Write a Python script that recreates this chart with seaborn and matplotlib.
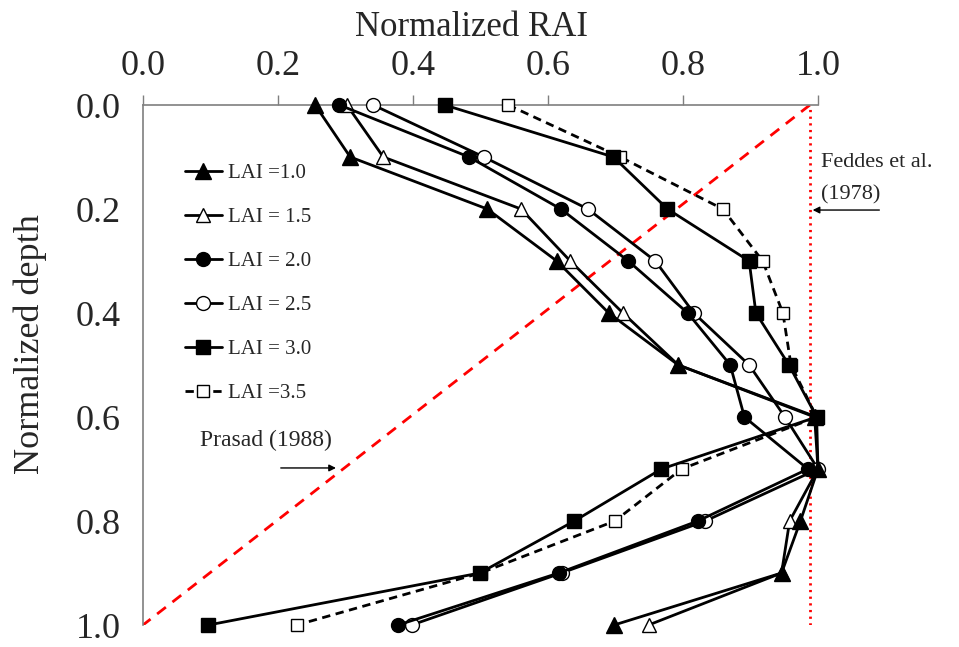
import numpy as np
import pandas as pd
import matplotlib
matplotlib.use("Agg")
import matplotlib.pyplot as plt
import seaborn as sns

# normalized depth levels (shared by all curves)
depth = [0.0, 0.1, 0.2, 0.3, 0.4, 0.5, 0.6, 0.7, 0.8, 0.9, 1.0]

# normalized RAI, one list per LAI
rai_lai_10 = [0.255, 0.307, 0.510, 0.613, 0.690, 0.793, 0.995, 1.000, 0.974, 0.946, 0.698]
rai_lai_15 = [0.302, 0.356, 0.560, 0.633, 0.711, 0.793, 0.998, 1.000, 0.958, 0.946, 0.749]
rai_lai_20 = [0.291, 0.483, 0.619, 0.719, 0.807, 0.870, 0.891, 0.985, 0.822, 0.616, 0.378]
rai_lai_25 = [0.341, 0.505, 0.659, 0.759, 0.816, 0.898, 0.951, 1.000, 0.833, 0.620, 0.398]
rai_lai_30 = [0.447, 0.697, 0.777, 0.898, 0.908, 0.957, 0.998, 0.768, 0.639, 0.499, 0.097]
rai_lai_35 = [0.541, 0.707, 0.859, 0.918, 0.948, 0.960, 0.998, 0.798, 0.699, 0.500, 0.228]

labels = ["LAI =1.0", "LAI = 1.5", "LAI = 2.0", "LAI = 2.5", "LAI = 3.0", "LAI =3.5"]

# reference lines
feddes_x = 0.988
prasad_x = [0.988, 0.0]
prasad_y = [0.0, 1.0]

sns.set_style("white")
plt.rcParams["font.family"] = ["Liberation Serif", "DejaVu Serif"]

fig = plt.figure(figsize=(9.59, 6.47), dpi=100)
ax = fig.add_axes([143 / 959, 1 - 625 / 647, 675 / 959, 520 / 647])

# red reference lines
ax.plot(prasad_x, prasad_y, color="red", lw=2.0, ls=(0, (4, 3)), zorder=1)
ax.axvline(feddes_x, color="red", lw=2.0, ls=(0, (0.8, 1.6)), zorder=1)

# filled markers sit on top of the open ones
styles = [
    dict(marker="^", mfc="black", ms=12, ls="-", z=4),
    dict(marker="^", mfc="white", ms=10, ls="-", z=3),
    dict(marker="o", mfc="black", ms=10, ls="-", z=4),
    dict(marker="o", mfc="white", ms=10, ls="-", z=3),
    dict(marker="s", mfc="black", ms=10, ls="-", z=4),
    dict(marker="s", mfc="white", ms=9, ls=(0, (3, 2)), z=3),
]
series = [rai_lai_10, rai_lai_15, rai_lai_20, rai_lai_25, rai_lai_30, rai_lai_35]

for vals, lab, st in zip(series, labels, styles):
    df = pd.DataFrame({"rai": vals, "depth": depth})
    sns.lineplot(data=df, x="rai", y="depth", ax=ax, sort=False, estimator=None,
                 color="black", lw=2.0, linestyle=st["ls"], marker=st["marker"],
                 markersize=st["ms"], markerfacecolor=st["mfc"],
                 markeredgecolor="black", markeredgewidth=1.0,
                 label=lab, clip_on=False, zorder=st["z"])

ax.set_xlim(0, 1.0)
ax.set_ylim(1.0, 0.0)
ax.xaxis.tick_top()
ax.xaxis.set_label_position("top")
ticks = np.arange(0, 1.01, 0.2)
ax.set_xticks(ticks)
ax.set_yticks(ticks)
ax.set_xticklabels([f"{v:.1f}" for v in ticks])
ax.set_yticklabels([f"{v:.1f}" for v in ticks])
ax.tick_params(axis="both", direction="out", length=7, width=1, color="#7f7f7f",
               labelsize=26)
ax.tick_params(axis="x", pad=9)
ax.tick_params(axis="y", pad=9)
for side in ["bottom", "right"]:
    ax.spines[side].set_visible(False)
for side in ["top", "left"]:
    ax.spines[side].set_color("#7f7f7f")
    ax.spines[side].set_linewidth(1.2)

ax.set_xlabel("Normalized RAI", fontsize=25)
ax.set_ylabel("Normalized depth", fontsize=26)
ax.xaxis.set_label_coords(0.486, 1.133)
ax.yaxis.set_label_coords(-0.142, 0.54)

handles, leg_labels = ax.get_legend_handles_labels()
ax.legend(handles, leg_labels, loc="upper left", bbox_to_anchor=(0.05, 0.903),
          frameon=False, fontsize=15, handlelength=1.75, handletextpad=0.3,
          labelspacing=1.17, borderaxespad=0)

# annotations
ax.text(1.005, 0.110, "Feddes et al.", fontsize=16, ha="left", va="center")
ax.text(1.005, 0.173, "(1978)", fontsize=16, ha="left", va="center")
ax.annotate("", xy=(feddes_x, 0.202), xytext=(1.095, 0.202),
            arrowprops=dict(arrowstyle="-|>", color="black", lw=1, mutation_scale=10),
            annotation_clip=False)
ax.text(0.084, 0.645, "Prasad (1988)", fontsize=17, ha="left", va="center")
ax.annotate("", xy=(0.29, 0.698), xytext=(0.2, 0.698),
            arrowprops=dict(arrowstyle="-|>", color="black", lw=1, mutation_scale=10))

fig.savefig("out.png", dpi=100)
